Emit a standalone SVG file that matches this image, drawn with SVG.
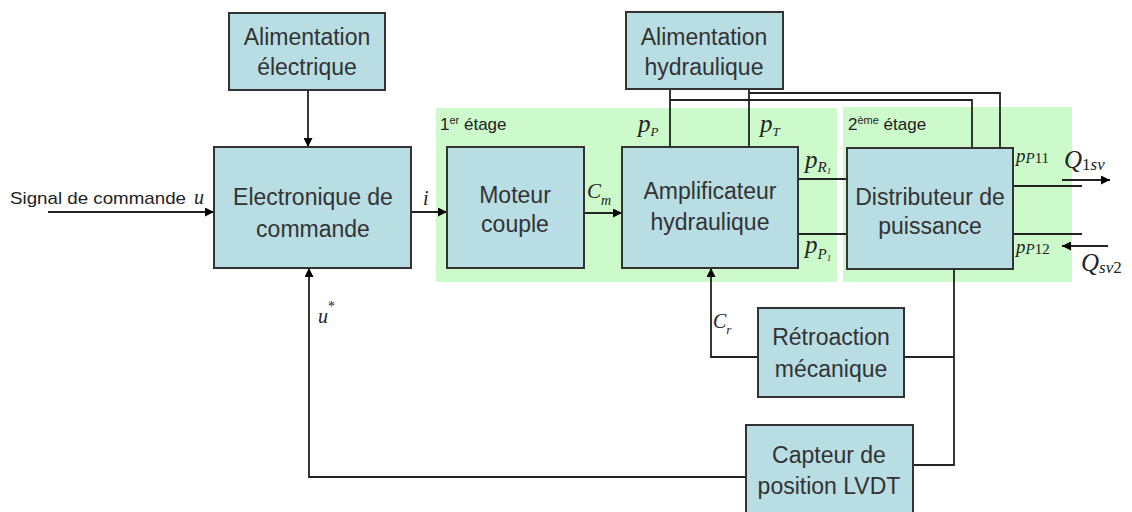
<svg xmlns="http://www.w3.org/2000/svg" width="1132" height="512" viewBox="0 0 1132 512">
<defs>
<marker id="ah" viewBox="0 0 10 10" refX="10" refY="5" markerWidth="11" markerHeight="9" markerUnits="userSpaceOnUse" orient="auto">
<path d="M0,0 L10,5 L0,10 z" fill="#000"/>
</marker>
<style>
.box{fill:#b8dde3;stroke:#333;stroke-width:2}
.stage{fill:#ccfacb}
.t{font-family:"Liberation Sans",Arial,sans-serif;font-size:23px;fill:#333;text-anchor:middle}
.s{font-family:"Liberation Sans",Arial,sans-serif;font-size:17px;fill:#222}
.m{font-family:"Liberation Serif","Times New Roman",serif;font-style:italic;fill:#222}
.c{fill:none;stroke:#222;stroke-width:1.8}
.a{marker-end:url(#ah)}
</style>
</defs>
<rect width="1132" height="512" fill="#fff"/>
<g id="stages">
<rect class="stage" x="436" y="108" width="401" height="174"/>
<rect class="stage" x="843" y="107" width="229" height="175"/>
<text class="s" x="440" y="130">1<tspan font-size="11" dy="-6">er</tspan><tspan dy="6"> étage</tspan></text>
<text class="s" x="848" y="130">2<tspan font-size="11" dy="-6">ème</tspan><tspan dy="6"> étage</tspan></text>
</g>
<g id="connectors">
<path class="c a" d="M308,90 V147"/>
<path class="c a" d="M48,212 H214"/>
<path class="c a" d="M411,212 H447"/>
<path class="c a" d="M584,213 H622"/>
<path class="c" d="M670,89 V147 M749,89 V147"/>
<path class="c" d="M670,100 H972 V148"/>
<path class="c" d="M749,93 H1000 V148"/>
<path class="c" d="M798,179 H847 M798,234 H847"/>
<path class="c" d="M1013,186 H1082 M1013,234 H1082"/>
<path class="c a" d="M1062,180 H1110"/>
<path class="c a" d="M1108,246 H1062"/>
<path class="c" d="M954,270 V465 H913"/>
<path class="c" d="M904,357 H954"/>
<path class="c a" d="M758,357 H711 V268"/>
<path class="c a" d="M746,477 H309 V268"/>
</g>
<g id="alim-elec">
<rect class="box" x="229" y="13" width="156" height="77"/>
<text class="t" x="307" y="45">Alimentation</text>
<text class="t" x="307" y="75">électrique</text>
</g>
<g id="electronique">
<rect class="box" x="214" y="147" width="197" height="121"/>
<text class="t" x="313" y="205">Electronique de</text>
<text class="t" x="313" y="237">commande</text>
</g>
<g id="moteur">
<rect class="box" x="447" y="147" width="137" height="121"/>
<text class="t" x="515" y="203">Moteur</text>
<text class="t" x="515" y="232">couple</text>
</g>
<g id="amplificateur">
<rect class="box" x="622" y="147" width="176" height="121"/>
<text class="t" x="710" y="199">Amplificateur</text>
<text class="t" x="710" y="230">hydraulique</text>
</g>
<g id="alim-hydr">
<rect class="box" x="626" y="12" width="157" height="77"/>
<text class="t" x="704" y="45">Alimentation</text>
<text class="t" x="704" y="75">hydraulique</text>
</g>
<g id="distributeur">
<rect class="box" x="847" y="148" width="166" height="121"/>
<text class="t" x="930" y="205">Distributeur de</text>
<text class="t" x="930" y="234">puissance</text>
</g>
<g id="retroaction">
<rect class="box" x="758" y="308" width="146" height="89"/>
<text class="t" x="831" y="345">Rétroaction</text>
<text class="t" x="831" y="377">mécanique</text>
</g>
<g id="capteur">
<rect class="box" x="746" y="425" width="167" height="95"/>
<text class="t" x="829" y="463">Capteur de</text>
<text class="t" x="829" y="494">position LVDT</text>
</g>
<g id="labels">
<text class="s" x="10" y="204" font-size="18" textLength="176" lengthAdjust="spacingAndGlyphs">Signal de commande</text>
<text class="m" x="194" y="204" font-size="20">u</text>
<text class="m" x="423" y="205" font-size="20">i</text>
<text class="m" x="587" y="198" font-size="21">C<tspan font-size="14" dy="7">m</tspan></text>
<text class="m" x="638" y="132" font-size="25">p<tspan font-size="13" dy="4">P</tspan></text>
<text class="m" x="760" y="132" font-size="25">p<tspan font-size="13" dy="4">T</tspan></text>
<text class="m" x="805" y="168" font-size="25">p<tspan font-size="15" dy="4">R</tspan><tspan font-size="9" dy="2">1</tspan></text>
<text class="m" x="805" y="253" font-size="25">p<tspan font-size="15" dy="6">P</tspan><tspan font-size="9" dy="2">1</tspan></text>
<text class="m" x="1016" y="162" font-size="19">p<tspan font-size="15" dy="1">P</tspan><tspan font-style="normal" font-size="15">11</tspan></text>
<text class="m" x="1016" y="253" font-size="19">p<tspan font-size="15" dy="1">P</tspan><tspan font-style="normal" font-size="15">12</tspan></text>
<text class="m" x="1064" y="168" font-size="25">Q<tspan font-style="normal" font-size="17" dy="2">1</tspan><tspan font-size="17">sv</tspan></text>
<text class="m" x="1081" y="271" font-size="25">Q<tspan font-size="17" dy="2">sv</tspan><tspan font-style="normal" font-size="17">2</tspan></text>
<text class="m" x="713" y="328" font-size="20">C<tspan font-size="13" dy="6">r</tspan></text>
<text class="m" x="318" y="323" font-size="20">u<tspan font-size="14" dy="-12" font-style="normal">*</tspan></text>
</g>
</svg>
